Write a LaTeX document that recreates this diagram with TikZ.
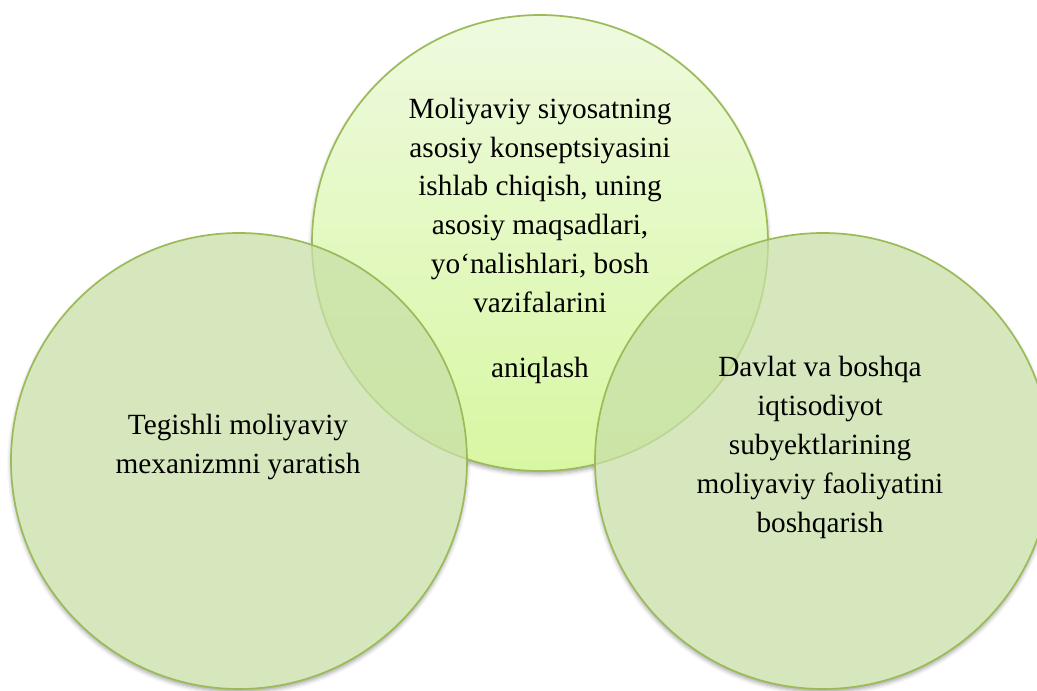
\documentclass[tikz,border=0pt]{standalone}
\usepackage{fontspec}
\setmainfont{Liberation Serif}
\usetikzlibrary{shadows.blur}

\definecolor{ringline}{HTML}{9BBB59}
\definecolor{sidefill}{HTML}{C8DFA8}
\definecolor{toplight}{HTML}{EEFADF}
\definecolor{topdark}{HTML}{D8F7A2}

\tikzset{
  bubble/.style={circle, minimum size=456pt, inner sep=0pt, draw=ringline, line width=1.7pt},
  topbubble/.style={bubble, top color=toplight, bottom color=topdark},
  sidebubble/.style={bubble, fill=sidefill, fill opacity=0.75, draw opacity=1},
  % anchor=base sits on the baseline of the last line
  caption/.style={align=center, anchor=base, inner sep=0pt, text=black,
    font=\fontsize{29.3}{38.8}\selectfont},
  softshadow/.style={white, blur shadow={shadow xshift=0pt, shadow yshift=-3pt,
    shadow blur radius=4pt, shadow opacity=35}}
}

\begin{document}
\begin{tikzpicture}[x=1pt, y=-1pt]
  \useasboundingbox (0,0) rectangle (1037,691);
  \clip (0,0) rectangle (1037,691);

  \coordinate (ct) at (540,243);
  \coordinate (cl) at (239,461);
  \coordinate (cr) at (823,461);

  % soft shadows, kept outside all three discs
  \begin{scope}[even odd rule]
    \clip (-50,-50) rectangle (1100,750) (ct) circle (228);
    \begin{scope}[even odd rule]
      \clip (-50,-50) rectangle (1100,750) (cl) circle (228);
      \begin{scope}[even odd rule]
        \clip (-50,-50) rectangle (1100,750) (cr) circle (228);
        \fill[softshadow] (ct) circle (228);
        \fill[softshadow] (cl) circle (228);
        \fill[softshadow] (cr) circle (228);
      \end{scope}
    \end{scope}
  \end{scope}

  % the three discs
  \node[topbubble] (top) at (ct) {};
  \node[sidebubble] (left) at (cl) {};
  \node[sidebubble] (right) at (cr) {};

  % texts
  \node[caption] (toptext) at (540,377)
    {Moliyaviy siyosatning\\asosiy konseptsiyasini\\ishlab chiqish, uning\\asosiy maqsadlari,\\yo‘nalishlari, bosh\\vazifalarini\\[26pt]aniqlash};
  \node[caption] (lefttext) at (238,473)
    {Tegishli moliyaviy\\mexanizmni yaratish};
  \node[caption] (righttext) at (820,532)
    {Davlat va boshqa\\iqtisodiyot\\subyektlarining\\moliyaviy faoliyatini\\boshqarish};
\end{tikzpicture}
\end{document}
